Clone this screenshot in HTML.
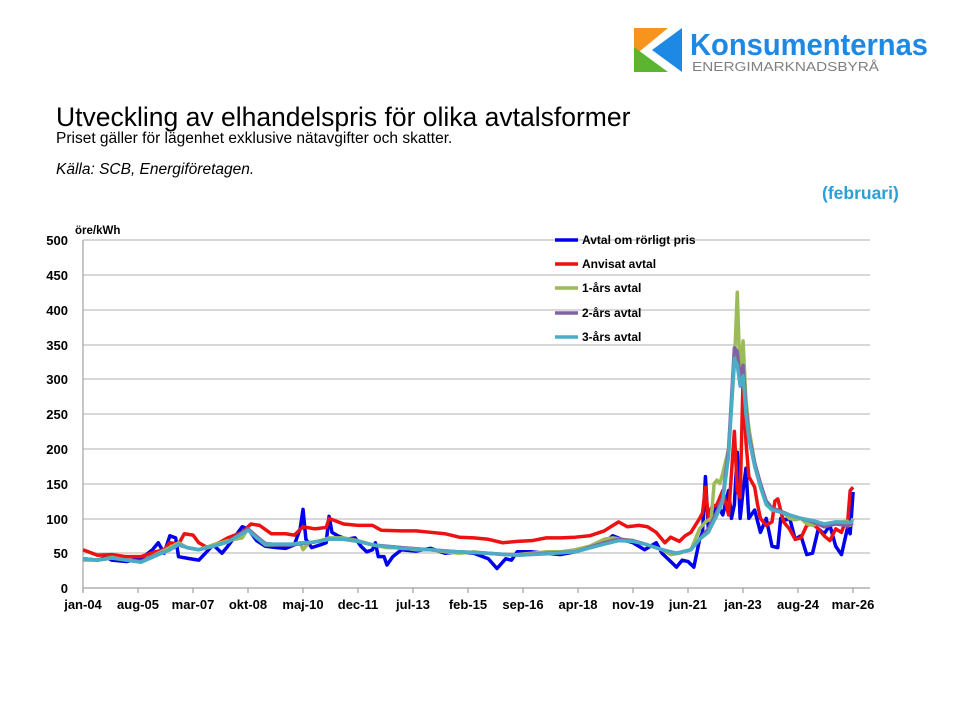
<!DOCTYPE html>
<html><head><meta charset="utf-8"><style>
body{margin:0;background:#fff;}
#w{position:relative;width:960px;height:720px;overflow:hidden;font-family:"Liberation Sans",sans-serif;}
.t{position:absolute;white-space:nowrap;}
</style></head><body><div id="w">
<svg width="960" height="720" style="position:absolute;left:0;top:0">
<polygon points="634,28 668,28 634,56" fill="#f7941d"/>
<polygon points="682,28 682,72 652,50" fill="#1e88e5"/>
<polygon points="634,72 668,72 634,47" fill="#5cb531"/>
<text x="690" y="55" font-family="Liberation Sans" font-weight="bold" font-size="31" fill="#1e88e5" textLength="238" lengthAdjust="spacingAndGlyphs">Konsumenternas</text>
<text x="692" y="71" font-family="Liberation Sans" font-size="13" fill="#808080" textLength="187" lengthAdjust="spacingAndGlyphs">ENERGIMARKNADSBYRÅ</text>
<g stroke="#c0c0c0" stroke-width="1.2">
<line x1="83" x2="870" y1="240" y2="240"/><line x1="83" x2="870" y1="275" y2="275"/>
<line x1="83" x2="870" y1="310" y2="310"/><line x1="83" x2="870" y1="345" y2="345"/>
<line x1="83" x2="870" y1="379" y2="379"/><line x1="83" x2="870" y1="414" y2="414"/>
<line x1="83" x2="870" y1="449" y2="449"/><line x1="83" x2="870" y1="484" y2="484"/>
<line x1="83" x2="870" y1="519" y2="519"/><line x1="83" x2="870" y1="553" y2="553"/>
</g>
<g stroke="#a0a0a0" stroke-width="1.2">
<line x1="83" x2="870" y1="588" y2="588"/><line x1="83" x2="83" y1="240" y2="592"/>
<line x1="83" x2="83" y1="588" y2="593"/><line x1="138" x2="138" y1="588" y2="593"/><line x1="193" x2="193" y1="588" y2="593"/><line x1="248" x2="248" y1="588" y2="593"/><line x1="303" x2="303" y1="588" y2="593"/><line x1="358" x2="358" y1="588" y2="593"/><line x1="413" x2="413" y1="588" y2="593"/><line x1="468" x2="468" y1="588" y2="593"/><line x1="523" x2="523" y1="588" y2="593"/><line x1="578" x2="578" y1="588" y2="593"/><line x1="633" x2="633" y1="588" y2="593"/><line x1="688" x2="688" y1="588" y2="593"/><line x1="743" x2="743" y1="588" y2="593"/><line x1="798" x2="798" y1="588" y2="593"/><line x1="853" x2="853" y1="588" y2="593"/>
</g>
<g font-family="Liberation Sans" font-weight="bold" font-size="13" fill="#000" text-anchor="end">
<text x="68" y="245">500</text><text x="68" y="280">450</text><text x="68" y="315">400</text><text x="68" y="350">350</text><text x="68" y="384">300</text><text x="68" y="419">250</text><text x="68" y="454">200</text><text x="68" y="489">150</text><text x="68" y="524">100</text><text x="68" y="558">50</text><text x="68" y="593">0</text>
</g>
<text x="75" y="234" font-family="Liberation Sans" font-weight="bold" font-size="11.5">öre/kWh</text>
<g font-family="Liberation Sans" font-weight="bold" font-size="13" text-anchor="middle">
<text x="83" y="609">jan-04</text><text x="138" y="609">aug-05</text><text x="193" y="609">mar-07</text><text x="248" y="609">okt-08</text><text x="303" y="609">maj-10</text><text x="358" y="609">dec-11</text><text x="413" y="609">jul-13</text><text x="468" y="609">feb-15</text><text x="523" y="609">sep-16</text><text x="578" y="609">apr-18</text><text x="633" y="609">nov-19</text><text x="688" y="609">jun-21</text><text x="743" y="609">jan-23</text><text x="798" y="609">aug-24</text><text x="853" y="609">mar-26</text>
</g>
<g transform="translate(83,588) scale(2.895,-0.696)" fill="none" stroke-linejoin="round">
<polyline vector-effect="non-scaling-stroke" stroke="#0000ee" stroke-width="3.5" points="0,42 5,40 8,44 10,40 15,38 20,42 24,55 26,65 28,50 30,75 32,72 33,45 37,42 40,40 45,62 48,50 50,60 55,88 57,85 60,68 63,60 67,58 70,57 73,62 75,85 76,113 77,70 79,58 82,62 84,65 85,103 86,80 88,75 91,70 94,72 96,60 98,52 100,55 101,65 102,45 104,45 105,33 107,45 110,55 115,53 120,57 125,50 130,52 135,50 140,42 143,28 146,42 148,40 150,52 155,52 160,50 165,48 170,52 175,58 180,65 183,75 186,70 190,65 194,55 198,65 200,50 202,42 205,30 207,40 209,38 211,30 213,70 214,80 215,160 216,85 217,90 219,120 221,105 223,140 224,100 225,120 226,195 227,100 228,140 229,172 230,100 232,112 234,80 236,100 238,60 240,58 241,100 243,98 244,102 246,70 248,75 250,48 252,50 254,85 256,78 258,90 260,60 262,48 264,85 265,78 266,138"/>
<polyline vector-effect="non-scaling-stroke" stroke="#ee1111" stroke-width="3.5" points="0,55 5,47 10,48 15,45 20,45 25,52 28,55 30,65 33,63 35,78 38,76 40,65 43,58 47,65 50,72 55,80 58,92 61,90 65,78 70,78 73,76 76,88 80,85 84,87 85,100 90,92 95,90 100,90 103,83 110,82 115,82 120,80 125,78 130,73 135,72 140,70 145,65 150,67 155,68 160,72 165,72 170,73 175,75 180,82 185,95 188,88 192,90 195,88 198,80 201,65 203,73 206,67 208,75 210,80 213,100 214,108 215,145 216,100 217,115 219,120 221,140 223,105 225,225 226,140 227,130 228,300 229,210 230,160 232,145 233,120 234,100 236,90 238,95 239,125 240,128 242,95 244,85 246,70 248,72 250,90 252,92 254,85 256,75 258,68 260,85 262,80 263,92 264,88 265,140 266,145"/>
<polyline vector-effect="non-scaling-stroke" stroke="#9bbb59" stroke-width="3.5" points="0,40 5,40 10,44 15,40 20,38 25,48 30,58 33,65 36,58 40,55 45,62 50,68 55,72 57,85 60,72 63,62 68,62 72,62 75,65 76,55 78,65 82,68 85,72 90,72 95,68 100,62 105,58 110,58 115,55 120,55 125,52 130,50 135,52 140,50 145,48 150,48 155,50 160,52 165,52 170,55 175,60 180,70 183,72 186,70 190,68 195,62 200,55 203,48 206,50 210,55 213,85 215,95 217,100 218,150 219,155 220,150 221,165 223,200 225,320 226,425 227,300 228,355 229,270 230,230 232,180 234,150 236,120 238,112 240,110 242,108 244,100 246,98 248,100 250,92 252,90 254,93 256,92 258,90 260,95 262,95 264,96 265,90 266,100"/>
<polyline vector-effect="non-scaling-stroke" stroke="#8064a2" stroke-width="3.5" points="0,42 5,40 10,43 15,40 20,38 25,47 30,55 33,62 36,58 40,55 45,60 50,66 57,85 60,74 63,64 68,62 72,62 76,64 80,66 85,70 90,70 95,67 100,62 110,58 120,55 130,52 140,50 150,47 160,50 170,52 180,65 185,70 190,68 195,62 200,55 205,50 210,55 213,70 216,85 219,110 221,130 223,200 225,345 226,340 227,300 228,320 229,260 230,220 232,180 234,150 236,125 238,115 240,112 244,105 248,100 252,95 256,88 260,92 264,90 266,93"/>
<polyline vector-effect="non-scaling-stroke" stroke="#4bacc6" stroke-width="3.5" points="0,42 5,40 10,43 15,40 20,37 25,46 30,55 33,63 36,58 40,55 45,60 50,66 57,83 60,72 63,63 68,63 72,63 76,65 80,66 85,70 90,70 95,67 100,62 110,57 120,55 130,52 140,50 150,47 160,49 170,52 180,63 185,68 190,67 195,62 200,55 205,50 210,55 213,70 216,80 219,105 221,125 223,190 225,330 226,320 227,290 228,305 229,250 230,215 232,175 234,145 236,120 238,112 240,110 244,105 248,100 252,97 256,92 260,95 264,94 266,95"/>
</g>
<g stroke-width="3.5">
<line x1="555" x2="578" y1="240" y2="240" stroke="#0000ee"/>
<line x1="555" x2="578" y1="264" y2="264" stroke="#ee1111"/>
<line x1="555" x2="578" y1="288" y2="288" stroke="#9bbb59"/>
<line x1="555" x2="578" y1="313" y2="313" stroke="#8064a2"/>
<line x1="555" x2="578" y1="337" y2="337" stroke="#4bacc6"/>
</g>
<g font-family="Liberation Sans" font-weight="bold" font-size="12">
<text x="582" y="244">Avtal om rörligt pris</text>
<text x="582" y="268">Anvisat avtal</text>
<text x="582" y="292">1-års avtal</text>
<text x="582" y="317">2-års avtal</text>
<text x="582" y="341">3-års avtal</text>
</g>
</svg>
<div class="t" style="left:56px;top:102px;font-size:26.5px;">Utveckling av elhandelspris för olika avtalsformer</div>
<div class="t" style="left:56px;top:130px;font-size:15.5px;">Priset gäller för lägenhet exklusive nätavgifter och skatter.</div>
<div class="t" style="left:56px;top:161px;font-size:15.5px;font-style:italic;">Källa: SCB, Energiföretagen.</div>
<div class="t" style="left:822px;top:183px;font-size:17.5px;font-weight:bold;color:#2a9fd8;">(februari)</div>
</div></body></html>
